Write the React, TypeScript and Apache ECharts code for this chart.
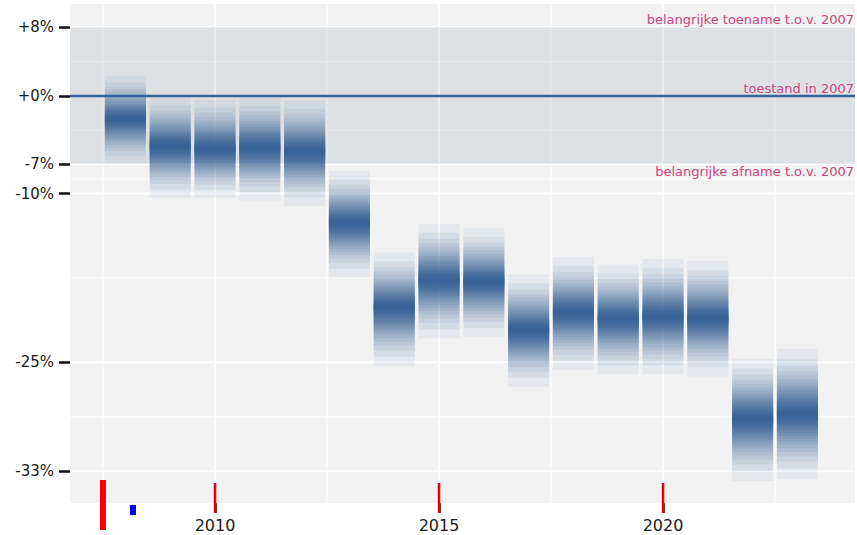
import React, { useEffect, useRef } from "react";
import * as echarts from "echarts";

// ---- Data (log-ratio index relative to 2007) ----
const years = [2008, 2009, 2010, 2011, 2012, 2013, 2014, 2015, 2016, 2017, 2018, 2019, 2020, 2021, 2022, 2023];
const center = [-0.025, -0.054, -0.057, -0.056, -0.060, -0.137, -0.228, -0.199, -0.201, -0.253, -0.234, -0.241, -0.238, -0.240, -0.349, -0.343];
const upper = [0.022, -0.002, -0.004, -0.002, -0.005, -0.081, -0.169, -0.138, -0.143, -0.193, -0.174, -0.182, -0.176, -0.178, -0.284, -0.273];
const lower = [-0.072, -0.110, -0.110, -0.113, -0.119, -0.196, -0.292, -0.262, -0.260, -0.314, -0.296, -0.301, -0.301, -0.303, -0.416, -0.414];

// ---- Axis ticks ----
const yTickValues = [0.0745, 0, -0.0735, -0.1054, -0.2877, -0.4055];
const yTickLabels = ["+8%", "+0%", "-7%", "-10%", "-25%", "-33%"];
const xTickValues = [2010, 2015, 2020];
const xTickLabels = ["2010", "2015", "2020"];
const xMinorValues = [2007.5, 2012.5, 2017.5, 2022.5];

// ---- Reference band & annotations ----
const bandLow = -0.0735;
const bandHigh = 0.0745;
const annotationLabels = ["belangrijke toename t.o.v. 2007", "toestand in 2007", "belangrijke afname t.o.v. 2007"];
const annotationValues = [0.0745, 0, -0.0735];

// ---- Styling ----
const X_MIN = 2006.763;
const X_MAX = 2024.285;
const Y_MIN = -0.4397;
const Y_MAX = 0.0994;
const BAR_WIDTH_YEARS = 0.915;
const BAR_RGB = "54,98,152";
const LINE_COLOR = "#36629a";
const ANNO_COLOR = "#c8457f";
const FONT = "DejaVu Sans";
const LEVELS = [0.95, 0.9, 0.85, 0.8, 0.75, 0.7, 0.65, 0.6, 0.55, 0.5, 0.45, 0.4, 0.35, 0.3, 0.25, 0.2, 0.15, 0.1, 0.05];

function probit(q: number): number {
  const t = Math.sqrt(-2 * Math.log(1 - q));
  const z = t - (2.515517 + 0.802853 * t + 0.010328 * t * t) / (1 + 1.432788 * t + 0.189269 * t * t + 0.001308 * t * t * t);
  return Math.max(z, 0);
}
const Z_OUTER = probit((1 + LEVELS[0]) / 2);
const levelFrac = LEVELS.map((L) => probit((1 + L) / 2) / Z_OUTER);
const targetOpacity = LEVELS.map((L) => 1 - Math.pow(L, 1.5));
const layerAlpha = targetOpacity.map((op, k) => (k === 0 ? op : 1 - (1 - op) / (1 - targetOpacity[k - 1])));

const yMinorValues: number[] = [];
for (let i = 0; i < yTickValues.length - 1; i++) yMinorValues.push((yTickValues[i] + yTickValues[i + 1]) / 2);

function buildOption(): any {
  const hGrid = [
    ...yTickValues.map((v) => [X_MIN, v, 1]),
    ...yMinorValues.map((v) => [X_MIN, v, 0]),
  ];
  const vGrid = [
    ...xTickValues.map((v) => [v, Y_MIN, 1]),
    ...xMinorValues.map((v) => [v, Y_MIN, 0]),
  ];
  const xTickData = xTickValues.map((v) => [v, Y_MIN]);
  const barData = years.map((y, i) => [y, center[i], lower[i], upper[i]]);
  const annoData = annotationValues.map((v, i) => [X_MAX, v, i]);

  return {
    animation: false,
    graphic: [
      { type: "rect", shape: { x: 100, y: 480, width: 6, height: 50 }, style: { fill: "red" }, z: 100 },
      { type: "rect", shape: { x: 130, y: 505, width: 6, height: 10 }, style: { fill: "blue" }, z: 100 },
    ],
    grid: {
      left: 70,
      right: 2,
      top: 4,
      bottom: 32,
      show: true,
      backgroundColor: "#f2f2f2",
      borderWidth: 0,
    },
    xAxis: {
      type: "value",
      min: X_MIN,
      max: X_MAX,
      splitLine: { show: false },
      axisLine: { show: false, onZero: false },
      axisTick: {
        show: true,
        length: 10,
        customValues: xTickValues,
        lineStyle: { color: "#111", width: 2.5 },
      },
      axisLabel: {
        customValues: xTickValues,
        formatter: (v: number) => {
          const i = xTickValues.findIndex((t) => Math.abs(t - v) < 1e-6);
          return i >= 0 ? xTickLabels[i] : "";
        },
        fontFamily: FONT,
        fontSize: 16,
        color: "#1a1a1a",
        margin: 14,
      },
    },
    yAxis: {
      type: "value",
      min: Y_MIN,
      max: Y_MAX,
      splitLine: { show: false },
      axisLine: { show: false },
      axisTick: {
        show: true,
        length: 11,
        customValues: yTickValues,
        lineStyle: { color: "#111", width: 2.5 },
      },
      axisLabel: {
        customValues: yTickValues,
        formatter: (v: number) => {
          const i = yTickValues.findIndex((t) => Math.abs(t - v) < 1e-6);
          return i >= 0 ? yTickLabels[i] : "";
        },
        fontFamily: FONT,
        fontSize: 15,
        color: "#1a1a1a",
        margin: 16,
      },
    },
    series: [
      {
        type: "custom",
        name: "hgrid",
        silent: true,
        z: 1,
        data: hGrid,
        encode: { x: 0, y: 1 },
        renderItem: (params: any, api: any) => {
          const cs = params.coordSys;
          const y = api.coord([api.value(0), api.value(1)])[1];
          const major = api.value(2) === 1;
          return {
            type: "line",
            shape: { x1: cs.x, y1: y, x2: cs.x + cs.width, y2: y },
            style: { stroke: "#ffffff", lineWidth: major ? 2 : 1 },
          };
        },
      },
      {
        type: "custom",
        name: "vgrid",
        silent: true,
        z: 1,
        data: vGrid,
        encode: { x: 0, y: 1 },
        renderItem: (params: any, api: any) => {
          const cs = params.coordSys;
          const x = api.coord([api.value(0), api.value(1)])[0];
          const major = api.value(2) === 1;
          return {
            type: "line",
            shape: { x1: x, y1: cs.y, x2: x, y2: cs.y + cs.height },
            style: { stroke: "#ffffff", lineWidth: major ? 2 : 1 },
          };
        },
      },
      {
        type: "custom",
        name: "xticks",
        silent: true,
        clip: false,
        z: 10,
        data: xTickData,
        encode: { x: 0, y: 1 },
        renderItem: (params: any, api: any) => {
          const cs = params.coordSys;
          const x = api.coord([api.value(0), api.value(1)])[0];
          const y0 = cs.y + cs.height;
          return {
            type: "rect",
            shape: { x: x - 1.25, y: y0 - 20, width: 2.5, height: 30 },
            style: { fill: "#e00" },
          };
        },
      },
      {
        type: "custom",
        name: "band",
        silent: true,
        z: 2,
        data: [[X_MIN, bandLow, bandHigh]],
        encode: { x: 0, y: [1, 2] },
        renderItem: (params: any, api: any) => {
          const cs = params.coordSys;
          const y1 = api.coord([api.value(0), api.value(2)])[1];
          const y2 = api.coord([api.value(0), api.value(1)])[1];
          return {
            type: "rect",
            shape: { x: cs.x, y: y1, width: cs.width, height: y2 - y1 },
            style: { fill: "rgba(108,129,149,0.15)" },
          };
        },
      },
      {
        type: "custom",
        name: "index",
        silent: true,
        z: 3,
        data: barData,
        encode: { x: 0, y: [1, 2, 3] },
        renderItem: (params: any, api: any) => {
          const x = api.value(0);
          const c = api.value(1);
          const lo = api.value(2);
          const hi = api.value(3);
          const w = api.size([BAR_WIDTH_YEARS, 0])[0];
          const pc = api.coord([x, c]);
          const yHi = api.coord([x, hi])[1];
          const yLo = api.coord([x, lo])[1];
          const children = levelFrac.map((f, k) => {
            const top = pc[1] + (yHi - pc[1]) * f;
            const bot = pc[1] + (yLo - pc[1]) * f;
            return {
              type: "rect",
              shape: { x: pc[0] - w / 2, y: top, width: w, height: bot - top },
              style: { fill: `rgba(${BAR_RGB},${layerAlpha[k].toFixed(4)})` },
            };
          });
          return { type: "group", children };
        },
      },
      {
        type: "custom",
        name: "reference",
        silent: true,
        z: 4,
        data: [[X_MIN, 0]],
        encode: { x: 0, y: 1 },
        renderItem: (params: any, api: any) => {
          const cs = params.coordSys;
          const y = api.coord([api.value(0), api.value(1)])[1];
          return {
            type: "line",
            shape: { x1: cs.x, y1: y, x2: cs.x + cs.width, y2: y },
            style: { stroke: LINE_COLOR, lineWidth: 2.5 },
          };
        },
      },
      {
        type: "custom",
        name: "annotations",
        silent: true,
        z: 5,
        data: annoData,
        encode: { x: 0, y: 1 },
        renderItem: (params: any, api: any) => {
          const cs = params.coordSys;
          const idx = api.value(2);
          const y = api.coord([api.value(0), api.value(1)])[1];
          const below = idx === 2;
          return {
            type: "text",
            style: {
              text: annotationLabels[idx],
              x: cs.x + cs.width - 1,
              y: below ? y + 1 : y - 1,
              align: "right",
              verticalAlign: below ? "top" : "bottom",
              fill: ANNO_COLOR,
              font: `13px '${FONT}'`,
            },
          };
        },
      },
    ],
  };
}

export default function App() {
  const ref = useRef<HTMLDivElement>(null);
  useEffect(() => {
    if (!ref.current) return;
    const chart = echarts.init(ref.current, null, { renderer: "svg" });
    chart.setOption(buildOption());
    return () => chart.dispose();
  }, []);
  return (
    <div
      ref={ref}
      style={{ position: "absolute", left: 0, top: 0, width: 857, height: 535 }}
    />
  );
}
